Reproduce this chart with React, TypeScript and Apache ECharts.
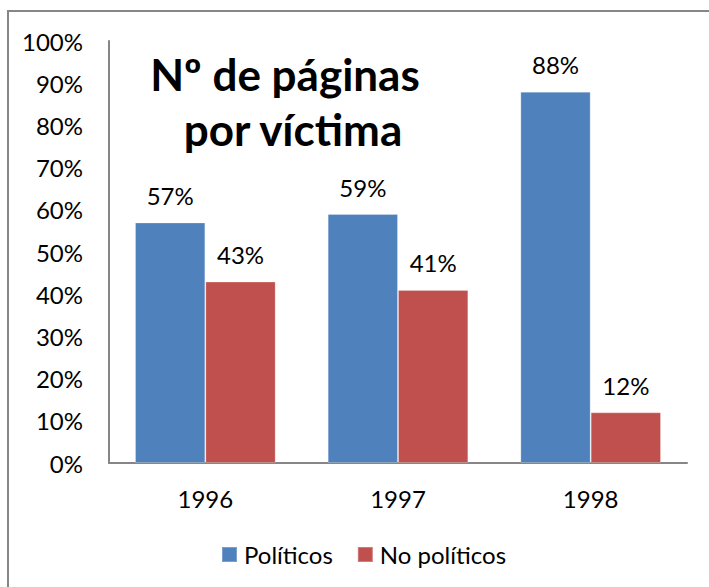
import React, { useEffect, useRef } from "react";
import * as echarts from "echarts";

const categories = ["1996", "1997", "1998"];
const politicos = [57, 59, 88];
const noPoliticos = [43, 41, 12];
const seriesNames = ["Políticos", "No políticos"];
const titleLines = ["Nº de páginas", "por víctima"];

const FONT = "Lato, 'Noto Sans', sans-serif";

export default function App() {
  const ref = useRef<HTMLDivElement>(null);
  useEffect(() => {
    if (!ref.current) return;
    const chart = echarts.init(ref.current, undefined, { renderer: "svg" });
    const labelStyle = {
      show: true,
      position: "top" as const,
      distance: 15,
      formatter: "{c}%",
      fontFamily: FONT,
      fontSize: 24,
      color: "#000",
    };
    chart.setOption({
      animation: false,
      backgroundColor: "#fff",
      textStyle: { fontFamily: FONT },
      graphic: [
        {
          type: "rect",
          shape: { x: 8, y: 11, width: 720, height: 600 },
          style: { fill: "none", stroke: "#868686", lineWidth: 2 },
          silent: true,
        },
        {
          type: "text",
          x: 285,
          y: 74,
          style: {
            text: titleLines[0],
            font: `bold 44px ${FONT}`,
            fill: "#000",
            textAlign: "center",
            textVerticalAlign: "middle",
          },
        },
        {
          type: "text",
          x: 293,
          y: 129,
          style: {
            text: titleLines[1],
            font: `bold 44px ${FONT}`,
            fill: "#000",
            textAlign: "center",
            textVerticalAlign: "middle",
          },
        },
      ],
      grid: { left: 109, right: 22, top: 41, bottom: 124 },
      legend: {
        data: seriesNames,
        left: 216,
        top: 536,
        itemWidth: 15,
        itemHeight: 15,
        itemGap: 24,
        icon: "rect",
        textStyle: { fontFamily: FONT, fontSize: 24, color: "#000", lineHeight: 27, padding: [0, 0, 0, 2] },
      },
      xAxis: {
        type: "category",
        data: categories,
        axisLine: { show: true, lineStyle: { color: "#868686", width: 2 } },
        axisTick: { show: false },
        axisLabel: { margin: 23, fontFamily: FONT, fontSize: 24, color: "#000" },
      },
      yAxis: {
        type: "value",
        min: 0,
        max: 100,
        interval: 10,
        axisLine: { show: true, lineStyle: { color: "#868686", width: 2 } },
        axisTick: { show: false },
        splitLine: { show: false },
        axisLabel: {
          formatter: "{value}%",
          margin: 26,
          fontFamily: FONT,
          fontSize: 24,
          color: "#000",
        },
      },
      series: [
        {
          name: seriesNames[0],
          type: "bar",
          data: politicos,
          barGap: "0%",
          barCategoryGap: "27%",
          itemStyle: { color: "#4F81BD", borderColor: "rgba(255,255,255,0.25)", borderWidth: 1 },
          label: labelStyle,
        },
        {
          name: seriesNames[1],
          type: "bar",
          data: noPoliticos,
          barGap: "0%",
          barCategoryGap: "27%",
          itemStyle: { color: "#C0504D", borderColor: "rgba(255,255,255,0.25)", borderWidth: 1 },
          label: labelStyle,
        },
      ],
    });
    return () => chart.dispose();
  }, []);
  return (
    <div
      ref={ref}
      style={{ position: "absolute", left: 0, top: 0, width: 709, height: 587, background: "#fff" }}
    />
  );
}
